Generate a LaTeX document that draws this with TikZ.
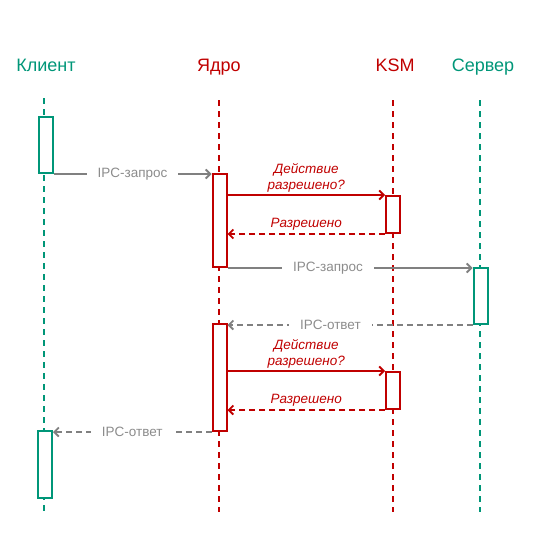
\documentclass[tikz,border=0pt]{standalone}
\usepackage{fontspec}
\setmainfont{Liberation Sans}
\usetikzlibrary{arrows.meta}
\definecolor{teal1}{RGB}{0,150,120}
\definecolor{red1}{RGB}{192,0,0}
\definecolor{gray1}{RGB}{128,128,128}
\definecolor{gray2}{RGB}{140,140,140}
\tikzset{
  life/.style={line width=2pt, dash pattern=on 6pt off 5pt},
  actbox/.style={draw, fill=white, line width=2pt, minimum width=14pt, inner sep=0pt},
  title/.style={font=\fontsize{18}{20}\selectfont, anchor=base},
  msg/.style={line width=2pt, -{Straight Barb[length=4.5pt,width=9pt,line width=1.8pt]}},
  ret/.style={msg, dash pattern=on 6pt off 4pt},
  glab/.style={fill=white, text=gray2, font=\fontsize{13.5}{15}\selectfont, inner xsep=11pt, inner ysep=2pt},
  rlab/.style={text=red1, font=\itshape\fontsize{13.5}{15.5}\selectfont, align=center, inner sep=2pt},
}
\begin{document}
\begin{tikzpicture}[x=1pt,y=-1pt]
\useasboundingbox (0,0) rectangle (533,543);
% titles
\node[title, text=teal1] (tc) at (46,71) {Клиент};
\node[title, text=red1] (tk) at (219,71) {Ядро};
\node[title, text=red1] (tm) at (395,71) {KSM};
\node[title, text=teal1] (ts) at (483,71) {Сервер};
% lifelines
\coordinate (c0) at (44,98); \coordinate (c1) at (44,512);
\coordinate (k0) at (219,100); \coordinate (k1) at (219,512);
\coordinate (m0) at (393,100); \coordinate (m1) at (393,512);
\coordinate (s0) at (480,100); \coordinate (s1) at (480,512);
\draw[life, teal1] (c0) -- (c1);
\draw[life, red1] (k0) -- (k1);
\draw[life, red1] (m0) -- (m1);
\draw[life, teal1] (s0) -- (s1);
% activation boxes
\node[actbox, draw=teal1, minimum height=56pt] (cb1) at (45.5,145) {};
\node[actbox, draw=teal1, minimum height=67pt] (cb2) at (45,464.5) {};
\node[actbox, draw=red1, minimum height=93pt] (kb1) at (219.5,220.5) {};
\node[actbox, draw=red1, minimum height=107pt] (kb2) at (219.5,377.5) {};
\node[actbox, draw=red1, minimum height=37pt] (mb1) at (393,214.5) {};
\node[actbox, draw=red1, minimum height=37pt] (mb2) at (393,390.5) {};
\node[actbox, draw=teal1, minimum height=56pt] (sb) at (480.5,296) {};
% messages
\draw[msg, gray1] (cb1.south east) -- (cb1.south east -| kb1.west)
  node[glab, midway] {IPC-запрос};
\draw[msg, red1] (kb1.east |- mb1.north) -- (mb1.north west)
  node[rlab, midway, above=0pt] {Действие\\разрешено?};
\draw[ret, red1] (mb1.south west) -- (kb1.east |- mb1.south)
  node[rlab, midway, above=1pt] {Разрешено};
\draw[msg, gray1] (kb1.south east) -- (kb1.south east -| sb.west)
  node[glab, pos=0.41] {IPC-запрос};
\draw[ret, gray1] (sb.south west) -- (sb.south west -| kb2.east)
  node[glab, pos=0.58] {IPC-ответ};
\draw[msg, red1] (kb2.east |- mb2.north) -- (mb2.north west)
  node[rlab, midway, above=0pt] {Действие\\разрешено?};
\draw[ret, red1] (mb2.south west) -- (kb2.east |- mb2.south)
  node[rlab, midway, above=1pt] {Разрешено};
\draw[ret, gray1] (kb2.south west) -- (kb2.south west -| cb2.east)
  node[glab, midway] {IPC-ответ};
\end{tikzpicture}
\end{document}
